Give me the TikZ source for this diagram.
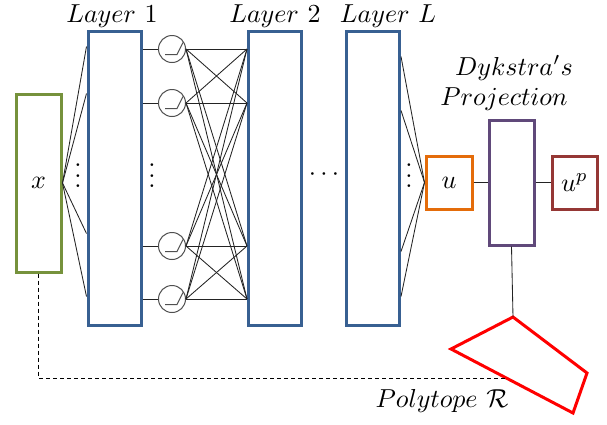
\documentclass[tikz,border=0pt]{standalone}
\usetikzlibrary{calc}
\definecolor{xgreen}{RGB}{118,146,60}
\definecolor{lblue}{RGB}{56,96,146}
\definecolor{uorange}{RGB}{228,108,10}
\definecolor{dpurple}{RGB}{96,73,122}
\definecolor{upred}{RGB}{149,55,53}
\definecolor{wire}{RGB}{35,35,35}
\definecolor{ncirc}{RGB}{80,80,80}
\begin{document}
\begin{tikzpicture}[x=1pt,y=-1pt,
  boxbase/.style={draw,rectangle,line width=3pt,inner sep=0pt},
  layerbox/.style={boxbase,draw=lblue,minimum width=53pt,minimum height=294pt},
  lbl/.style={scale=2.6,inner sep=0pt},
  neuron/.style={draw=ncirc,circle,line width=1pt,minimum size=27pt,inner sep=0pt},
  wirestyle/.style={draw=wire,line width=0.85pt},
  dotsn/.style={scale=2.6,inner sep=0pt,anchor=base}]
\useasboundingbox (0,0) rectangle (607,424);

% boxes
\node[boxbase,draw=xgreen,minimum width=45pt,minimum height=178pt] (X) at (38.5,183) {};
\node[lbl] at (X.center) {$x$};
\node[layerbox] (L1) at (114.5,178) {};
\node[layerbox] (L2) at (275,178) {};
\node[layerbox] (LL) at (373,178) {};
\node[boxbase,draw=uorange,minimum width=46pt,minimum height=53pt] (U) at (449,182.5) {};
\node[lbl] at (U.center) {$u$};
\node[boxbase,draw=dpurple,minimum width=45pt,minimum height=125pt] (D) at (511.5,182.5) {};
\node[boxbase,draw=upred,minimum width=45pt,minimum height=53pt] (UP) at (574.5,182.5) {};
\node[lbl] at (UP.center) {$u^p$};

% labels
\node[lbl,anchor=base] (t1) at (112,22) {$Layer\ 1$};
\node[lbl,anchor=base] (t2) at (275,22) {$Layer\ 2$};
\node[lbl,anchor=base] (tL) at (388,22) {$Layer\ L$};
\node[lbl,anchor=base] (td) at (514,75) {$Dykstra's$};
\node[lbl,anchor=base] (tp) at (504,105) {$Projection$};
\node[lbl,anchor=base] (tr) at (442,407) {$Polytope\ \mathcal{R}$};

% neurons
\foreach \i/\yy in {1/49,2/103,3/246,4/299}{
  \node[neuron] (n\i) at (172,\yy) {};
  \draw[draw=ncirc,line width=1pt] ([shift={(-7,5.5)}]n\i.center) -- ++(12,0) -- ++(6,-12);
  \draw[wirestyle] (L1.east |- n\i) -- (n\i);
}
\foreach \i in {1,2,3,4}{
  \foreach \j in {1,2,3,4}{
    \draw[wirestyle] (n\i.east) -- (L2.west |- n\j);
  }
}

% x -> layer 1
\foreach \o in {17,64,204,267}{
  \draw[wirestyle] (X.east) -- ($(L1.north west)+(0,\o)$);
}
% layer L -> u
\foreach \o in {27,81,222,267}{
  \draw[wirestyle] ($(LL.north east)+(0,\o)$) -- (U.west);
}

% dots
\node[dotsn] (d1) at (78,187.6) {$\vdots$};
\node[dotsn] (d2) at (152,187.6) {$\vdots$};
\node[dotsn] (d3) at (409,187.6) {$\vdots$};
\node[dotsn] (d4) at (324,180.4) {$\cdots$};

% projection chain
\draw[wirestyle] (U) -- (D);
\draw[wirestyle] (D) -- (UP);

% polytope
\coordinate (P1) at (513,317);
\coordinate (P2) at (587,373);
\coordinate (P3) at (573,413);
\coordinate (P4) at (451,349);
\draw[red,line width=3pt] (P1) -- (P2) -- (P3) -- (P4) -- cycle;
\draw[wirestyle] (D.south) -- (P1);
\coordinate (Dend) at ($(P4)!0.453!(P3)$);
\draw[black,line width=0.8pt,dash pattern=on 4pt off 3pt] (X.south) |- (Dend);
\end{tikzpicture}
\end{document}
